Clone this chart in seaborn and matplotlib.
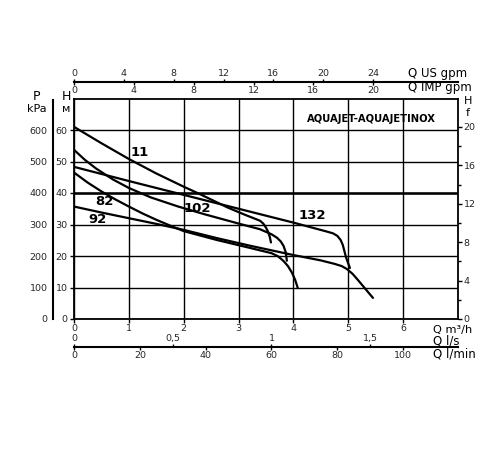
import numpy as np
import pandas as pd
import matplotlib
matplotlib.use("Agg")
import matplotlib.pyplot as plt
import seaborn as sns

sns.set_theme(style="white")
plt.rcParams['font.family'] = ['DejaVu Sans']

# ---------------- data (Q in m3/h, H in m) ----------------
q_11 = [0, 0.5, 1.0, 1.5, 2.0, 2.3, 2.8, 3.1, 3.39, 3.45, 3.5, 3.54, 3.57, 3.59]
h_11 = [61, 55.8, 50.8, 46.2, 42.0, 39.6, 35.4, 33.2, 31.2, 30.3, 29.0, 27.6, 26.0, 24.3]

q_102 = [0, 0.2, 0.4, 0.71, 1.0, 1.4, 1.9, 2.39, 3.0, 3.39, 3.6, 3.7, 3.77, 3.82, 3.86, 3.88]
h_102 = [53.7, 50.5, 47.8, 44.3, 41.6, 38.6, 35.7, 33.2, 30.3, 28.5, 26.9, 25.8, 24.6, 23.2, 21.2, 18.5]

q_132 = [0, 1.0, 2.0, 3.0, 4.0, 4.6, 4.72, 4.8, 4.86, 4.9, 4.93, 4.96, 5.0, 5.03]
h_132 = [48.3, 43.8, 39.4, 35.0, 30.6, 27.8, 27.2, 26.4, 25.1, 23.5, 21.5, 19.5, 17.6, 16.2]

q_82 = [0, 0.25, 0.5, 0.75, 1.0, 1.25, 1.5, 1.8, 2.0, 2.6, 3.2, 3.6, 3.72, 3.82, 3.9, 3.97, 4.03, 4.08]
h_82 = [46.5, 43.3, 40.5, 38.0, 35.7, 33.5, 31.5, 29.3, 27.9, 25.1, 22.6, 20.9, 19.9, 18.4, 16.8, 14.8, 12.5, 9.8]

q_92 = [0, 0.5, 1.0, 1.5, 2.0, 2.6, 3.2, 4.0, 4.5, 4.75, 4.88, 4.98, 5.08, 5.18, 5.3, 5.45]
h_92 = [35.7, 33.8, 32.0, 30.2, 28.3, 25.7, 23.3, 20.3, 18.6, 17.5, 16.8, 15.8, 14.3, 12.3, 9.8, 6.7]

curve_names = ["11", "102", "132", "82", "92"]
label_pos_q = [1.2, 2.25, 4.35, 0.55, 0.43]
label_pos_h = [53, 35.2, 32.8, 37.2, 31.6]

# scale conversions
us_gpm_per_m3h = 4.403
imp_gpm_per_m3h = 3.666
ls_per_m3h = 1 / 3.6
lmin_per_m3h = 1 / 0.06
kpa_per_m = 10.0
f_per_m = 1 / 3.048

us_ticks = [0, 4, 8, 12, 16, 20, 24]
imp_ticks = [0, 4, 8, 12, 16, 20]
ls_ticks = [0, 0.5, 1, 1.5]
ls_labels = ["0", "0,5", "1", "1,5"]
lmin_ticks = [0, 20, 40, 60, 80, 100]
p_ticks = [0, 100, 200, 300, 400, 500, 600]
f_major = [0, 4, 8, 12, 16, 20]
f_minor = [2, 6, 10, 14, 18]

# ---------------- layout ----------------
W, Hpx = 500, 450
fig = plt.figure(figsize=(5, 4.5), dpi=100)
fig.patch.set_facecolor("white")

x0, x1 = 74, 458
y0, y1 = 319, 98.5
QMAX, HMAX = 7, 70

def fx(px):
    return px / W

def fy(py):
    return 1 - py / Hpx

ax = fig.add_axes([fx(x0), fy(y0), (x1 - x0) / W, (y0 - y1) / Hpx])
ax.set_xlim(0, QMAX)
ax.set_ylim(0, HMAX)
ax.set_xticks(range(0, 7))
ax.set_yticks(range(0, 61, 10))
ax.grid(True, color="black", lw=1.0)
ax.axhline(40, color="black", lw=1.8, zorder=1)
for s in ax.spines.values():
    s.set_color("black")
    s.set_linewidth(1.3)
ax.tick_params(axis="both", direction="out", length=3, width=1, color="black",
               labelsize=6.8, pad=1.5, bottom=True, left=True)
ax.tick_params(axis="x", pad=0.8)

all_q = [q_11, q_102, q_132, q_82, q_92]
all_h = [h_11, h_102, h_132, h_82, h_92]
for name, q, h in zip(curve_names, all_q, all_h):
    df = pd.DataFrame({"Q": q, "H": h})
    sns.lineplot(data=df, x="Q", y="H", sort=False, color="black", lw=1.6,
                 ax=ax, zorder=3)
ax.set_xlabel("")
ax.set_ylabel("")

lab_font = dict(family="Liberation Sans Narrow", weight="bold", fontsize=9.5)
for name, q, h in zip(curve_names, label_pos_q, label_pos_h):
    ax.text(q, h, name, ha="center", va="center", color="black", **lab_font)
ax.text(6.6, 63.5, "AQUAJET-AQUAJETINOX", ha="right", va="center",
        color="black", family="Liberation Sans Narrow", weight="bold", fontsize=7.2)

# right axis (H f)
axr = ax.twinx()
axr.set_ylim(0, HMAX * f_per_m)
axr.set_yticks(f_major)
axr.set_yticks(f_minor, minor=True)
axr.tick_params(axis="y", which="both", direction="out", length=3, width=1,
                color="black", labelsize=6.8, pad=1)
axr.tick_params(axis="y", which="minor", length=2.5)
axr.grid(False)
for s in axr.spines.values():
    s.set_visible(False)

# left pressure axis
axp = fig.add_axes([fx(53), fy(y0), 0.0001, (y0 - 100) / Hpx])
axp.set_ylim(0, (y0 - 100) / 3.15 * kpa_per_m)
axp.set_yticks(p_ticks)
axp.set_xticks([])
axp.patch.set_visible(False)
for k in ["right", "top", "bottom"]:
    axp.spines[k].set_visible(False)
axp.spines["left"].set_linewidth(1.5)
axp.spines["left"].set_color("black")
axp.tick_params(axis="y", direction="out", length=3, width=1, color="black",
                labelsize=6.8, pad=1)
axp.grid(False)

# top gpm scales
axt = fig.add_axes([fx(x0), fy(82), (x1 - x0) / W, 0.0001])
axt.set_xlim(0, QMAX * imp_gpm_per_m3h)
axt.set_xticks(imp_ticks)
axt.set_yticks([])
axt.patch.set_visible(False)
for k in ["left", "right", "top"]:
    axt.spines[k].set_visible(False)
axt.spines["bottom"].set_linewidth(1.5)
axt.spines["bottom"].set_color("black")
axt.tick_params(axis="x", direction="out", length=2.5, width=1, color="black",
                labelsize=6.8, pad=0.5)
axt.grid(False)
axt2 = axt.twiny()
axt2.set_xlim(0, QMAX * us_gpm_per_m3h)
axt2.set_xticks(us_ticks)
for s in axt2.spines.values():
    s.set_visible(False)
axt2.tick_params(axis="x", direction="out", length=2.5, width=1, color="black",
                 labelsize=6.8, pad=0.5)
axt2.grid(False)

# bottom l/s & l/min scales
axb = fig.add_axes([fx(x0), fy(347), (x1 - x0) / W, 0.0001])
axb.set_xlim(0, QMAX * lmin_per_m3h)
axb.set_xticks(lmin_ticks)
axb.set_yticks([])
axb.patch.set_visible(False)
for k in ["left", "right", "top"]:
    axb.spines[k].set_visible(False)
axb.spines["bottom"].set_linewidth(1.5)
axb.spines["bottom"].set_color("black")
axb.tick_params(axis="x", direction="out", length=2.5, width=1, color="black",
                labelsize=6.8, pad=0.5)
axb.grid(False)
axb2 = axb.twiny()
axb2.set_xlim(0, QMAX * ls_per_m3h)
axb2.set_xticks(ls_ticks)
axb2.set_xticklabels(ls_labels)
for s in axb2.spines.values():
    s.set_visible(False)
axb2.tick_params(axis="x", direction="out", length=2.5, width=1, color="black",
                 labelsize=6.8, pad=0.2)
axb2.grid(False)

# axis titles
tf = dict(color="black", fontsize=8.5)
fig.text(fx(408), fy(74), "Q US gpm", ha="left", va="center", **tf)
fig.text(fx(408), fy(88), "Q IMP gpm", ha="left", va="center", **tf)
fig.text(fx(433), fy(330), "Q m³/h", ha="left", va="center", color="black", fontsize=8.2)
fig.text(fx(433), fy(341), "Q l/s", ha="left", va="center", **tf)
fig.text(fx(433), fy(354), "Q l/min", ha="left", va="center", **tf)
fig.text(fx(36), fy(96), "P", ha="center", va="center", color="black", fontsize=9)
fig.text(fx(37), fy(109), "kPa", ha="center", va="center", color="black", fontsize=8)
fig.text(fx(66), fy(97), "H", ha="center", va="center", color="black", fontsize=9)
fig.text(fx(66), fy(109), "м", ha="center", va="center", color="black", fontsize=8)
fig.text(fx(468), fy(101), "H", ha="center", va="center", color="black", fontsize=8)
fig.text(fx(468), fy(113), "f", ha="center", va="center", color="black", fontsize=8)

fig.savefig("out.png", dpi=100, facecolor="white")
